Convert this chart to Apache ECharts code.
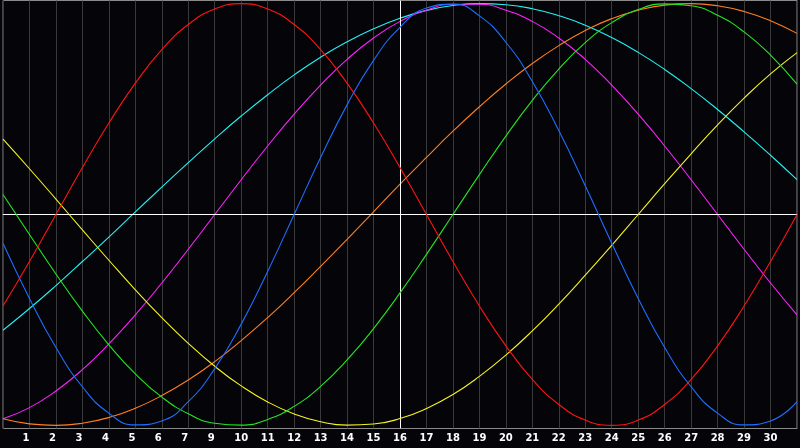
<!DOCTYPE html>
<html>
<head>
<meta charset="utf-8">
<script src="https://cdn.jsdelivr.net/npm/echarts@6/dist/echarts.min.js"></script>
<style>
html,body{margin:0;padding:0;background:#050408;}
#chart{width:800px;height:448px;}
</style>
</head>
<body>
<div id="chart"></div>
<script>
// Day labels (first and last grid positions are unlabeled; "8" does not appear)
const days = ['', '1','2','3','4','5','6','7','9','10','11','12','13','14','15','16','17','18','19','20','21','22','23','24','25','26','27','28','29','30', ''];

const physical = [-0.136,-0.398,-0.631,-0.817,-0.942,-0.998,-0.979,-0.888,-0.731,-0.520,-0.270,0,0.270,0.520,0.731,0.888,0.979,0.998,0.942,0.817,0.631,0.398,0.136,-0.136,-0.398,-0.631,-0.817,-0.942,-0.998,-0.979,-0.888];
const emotional = [-0.434,-0.223,0,0.223,0.434,0.623,0.782,0.901,0.975,1,0.975,0.901,0.782,0.623,0.434,0.223,0,-0.223,-0.434,-0.623,-0.782,-0.901,-0.975,-1,-0.975,-0.901,-0.782,-0.623,-0.434,-0.223,0];
const intellectual = [0.095,-0.095,-0.282,-0.458,-0.618,-0.756,-0.866,-0.945,-0.990,-0.999,-0.972,-0.910,-0.815,-0.690,-0.541,-0.372,-0.189,0,0.189,0.372,0.541,0.690,0.815,0.910,0.972,0.999,0.990,0.945,0.866,0.756,0.618];
const intuitive = [-0.969,-0.916,-0.837,-0.736,-0.614,-0.476,-0.325,-0.165,0,0.165,0.325,0.476,0.614,0.736,0.837,0.916,0.969,0.997,0.997,0.969,0.916,0.837,0.736,0.614,0.476,0.325,0.165,0,-0.165,-0.325,-0.476];
const aesthetic = [0.357,0.217,0.073,-0.073,-0.217,-0.357,-0.489,-0.611,-0.720,-0.813,-0.889,-0.946,-0.983,-0.999,-0.994,-0.968,-0.920,-0.854,-0.768,-0.667,-0.552,-0.425,-0.288,-0.146,0,0.146,0.288,0.425,0.552,0.667,0.768];
const awareness = [-0.969,-0.993,-1.000,-0.990,-0.963,-0.919,-0.859,-0.785,-0.698,-0.598,-0.489,-0.371,-0.246,-0.118,0.013,0.144,0.271,0.395,0.511,0.619,0.716,0.801,0.873,0.929,0.969,0.993,1.000,0.990,0.963,0.919,0.859];
const spiritual = [-0.549,-0.446,-0.337,-0.223,-0.107,0.012,0.130,0.246,0.359,0.467,0.568,0.662,0.746,0.819,0.881,0.931,0.968,0.991,1.000,0.995,0.976,0.943,0.898,0.839,0.769,0.688,0.597,0.498,0.392,0.281,0.165];

const todayIndex = 15;

const chart = echarts.init(document.getElementById('chart'), null, {renderer:'canvas'});

function line(name, data, color, z) {
  return {
    name: name, type: 'line', data: data, smooth: true, showSymbol: false,
    symbol: 'none', z: z, silent: true,
    lineStyle: {color: color, width: 1.1}
  };
}

const series = [
  line('Spiritual', spiritual, '#22f2f2', 2),
  line('Intuitive', intuitive, '#ff22ff', 3),
  line('Awareness', awareness, '#ff8020', 4),
  line('Aesthetic', aesthetic, '#f4f422', 5),
  line('Intellectual', intellectual, '#22e822', 6),
  line('Emotional', emotional, '#ff1414', 7),
  line('Physical', physical, '#1e6eff', 8)
];
series.push({
  type: 'line', data: [], silent: true, z: 1,
  markLine: {
    silent: true, symbol: 'none', animation: false,
    label: {show: false},
    lineStyle: {color: '#ffffff', width: 1, type: 'solid'},
    data: [{yAxis: 0}, {xAxis: todayIndex}]
  }
});

chart.setOption({
  backgroundColor: '#050408',
  animation: false,
  grid: {left: 0.5, right: 0.5, top: 0.5, bottom: 19.5, show: true,
         borderColor: '#8a8a8a', borderWidth: 1, backgroundColor: 'transparent'},
  xAxis: {
    type: 'category', data: days, boundaryGap: false,
    axisLine: {show: true, lineStyle: {color: '#8a8a8a', width: 1}},
    axisTick: {show: false},
    axisLabel: {interval: 0, color: '#ffffff', fontWeight: 'bold', fontSize: 10,
                fontFamily: 'DejaVu Sans', margin: 5,
                formatter: function (v) { return v.length === 1 ? v + '\u2007' : v; }},
    splitLine: {show: true, interval: 0, lineStyle: {color: '#3a3a3a', width: 1}}
  },
  yAxis: {
    type: 'value', min: -1.015, max: 1.015,
    axisLine: {show: false}, axisTick: {show: false}, axisLabel: {show: false},
    splitLine: {show: false}
  },
  series: series
});
</script>
</body>
</html>
